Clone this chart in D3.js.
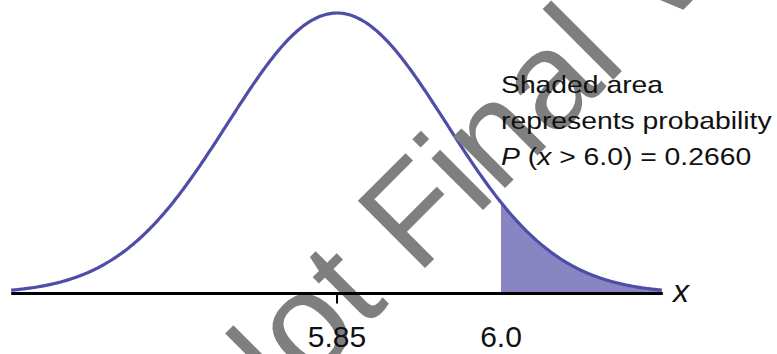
<!DOCTYPE html>
<html>
<head>
<meta charset="utf-8">
<script src="https://cdn.jsdelivr.net/npm/d3@7"></script>
<style>
  html, body { margin: 0; padding: 0; background: #fff; }
  svg { display: block; }
  text { font-family: "Liberation Sans", Arial, sans-serif; }
</style>
</head>
<body>
<svg id="chart" width="777" height="354"></svg>
<script>
// ---- data ----
const distMean = [5.85];
const distSD = [0.1];
const thresholdX = [6.0];
const tickValues = [5.85, 6.0];
const tickLabels = ["5.85", "6.0"];
const xDomain = [5.55, 6.15];
const annotationLines = ["Shaded area", "represents probability"];
const probValue = ["0.2660"];
const watermark = ["Not Final Version"];

// ---- layout ----
const W = 777, H = 354;
const svg = d3.select("#chart");
const mu = distMean[0], sd = distSD[0], thr = thresholdX[0];

const x = d3.scaleLinear().domain(xDomain).range([9, 665]);
const pdf = v => Math.exp(-0.5 * ((v - mu) / sd) ** 2) / (sd * Math.sqrt(2 * Math.PI));
const y = d3.scaleLinear().domain([0, pdf(mu)]).range([293.5, 13]);

const x0 = 5.552, x1 = 6.147;
const curvePts = d3.range(x0, x1 + 1e-9, (x1 - x0) / 400).map(v => [v, pdf(v)]);
const shadePts = curvePts.filter(p => p[0] >= thr);
shadePts.unshift([thr, pdf(thr)]);

// shaded area
svg.append("path")
  .datum(shadePts)
  .attr("fill", "#8985c3")
  .attr("d", d3.area().x(d => x(d[0])).y0(y(0)).y1(d => y(d[1])));

// curve
svg.append("path")
  .datum(curvePts)
  .attr("fill", "none")
  .attr("stroke", "#4e4ea8")
  .attr("stroke-width", 3.2)
  .attr("d", d3.line().x(d => x(d[0])).y(d => y(d[1])).curve(d3.curveBasis));

// watermark
svg.append("text")
  .attr("transform", "translate(238,455) rotate(-45)")
  .attr("font-size", 138)
  .attr("fill", "#7f7f7f")
  .text(watermark[0]);

// axis line
svg.append("line")
  .attr("x1", x(5.552)).attr("x2", x(6.148))
  .attr("y1", y(0)).attr("y2", y(0))
  .attr("stroke", "#000").attr("stroke-width", 2.8);

// tick at mean
svg.append("line")
  .attr("x1", x(mu)).attr("x2", x(mu))
  .attr("y1", y(0)).attr("y2", y(0) + 10)
  .attr("stroke", "#000").attr("stroke-width", 2);

// tick labels
svg.selectAll("text.tick")
  .data(tickValues)
  .enter().append("text")
  .attr("class", "tick")
  .attr("x", d => x(d))
  .attr("y", 347)
  .attr("text-anchor", "middle")
  .attr("font-size", 30)
  .attr("fill", "#111")
  .text((d, i) => tickLabels[i]);

// axis label
svg.append("text")
  .attr("x", 673).attr("y", 302)
  .attr("font-size", 32)
  .attr("font-style", "italic")
  .attr("fill", "#111")
  .text("x");

// annotation
const ann = svg.append("g").attr("transform", "translate(501,0) scale(1.18,1)");
annotationLines.forEach((t, i) => {
  ann.append("text")
    .attr("x", 0).attr("y", 93 + i * 36)
    .attr("font-size", 24)
    .attr("fill", "#111")
    .text(t);
});
const pt = ann.append("text").attr("x", 0).attr("y", 165).attr("font-size", 24).attr("fill", "#111");
pt.append("tspan").attr("font-style", "italic").text("P");
pt.append("tspan").text(" (");
pt.append("tspan").attr("font-style", "italic").text("x");
pt.append("tspan").text(" > " + thr.toFixed(1) + ") = " + probValue[0]);
</script>
</body>
</html>
